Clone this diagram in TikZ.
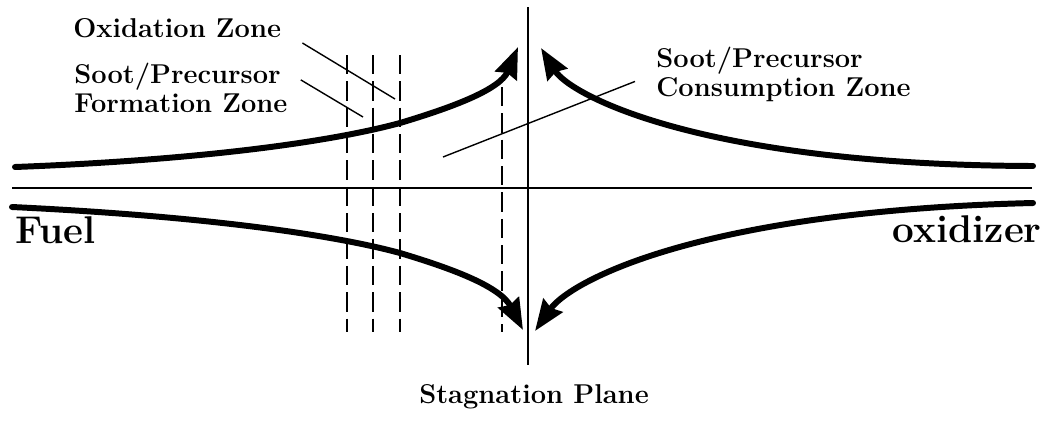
\documentclass[tikz,border=0pt]{standalone}
\usepackage{tikz}
\usetikzlibrary{arrows.meta,positioning}

\begin{document}
\begin{tikzpicture}[x=0.02cm,y=-0.02cm,
  lbl/.style={font=\bfseries\fontsize{15.5}{16.2}\selectfont,inner sep=0pt,align=left},
  big/.style={font=\bfseries\fontsize{22}{24}\selectfont,inner sep=0pt},
  flow/.style={line width=3.4pt,line cap=round,-{Stealth[length=0.62cm,width=0.46cm,inset=0.06cm]}},
  axis/.style={line width=0.9pt},
  zone/.style={line width=0.8pt,dash pattern=on 11pt off 4pt},
  lead/.style={line width=0.8pt}]
  \useasboundingbox (0,0) rectangle (1048,420);
  \draw[axis] (12,188) -- (1032,188);
  \draw[axis] (528,7) -- (528,365);
  \foreach \xz in {347,373,400} \draw[zone] (\xz,55) -- (\xz,332);
  \draw[zone] (502,87) -- (502,332);
  \coordinate (ulS) at (15,167);   \coordinate (ulT) at (518,47);
  \coordinate (urS) at (1033,166); \coordinate (urT) at (541,48);
  \coordinate (llS) at (12,207);   \coordinate (llT) at (523,330);
  \coordinate (lrS) at (1033,203); \coordinate (lrT) at (535,331);
  \draw[flow] (ulS) .. controls (200,160) and (330,142) .. (400,123)
    .. controls (450,108) and (500,90) .. (ulT);
  \draw[flow] (urS) .. controls (700,165) and (570,95) .. (urT);
  \draw[flow] (llS) .. controls (200,216) and (330,234) .. (400,253)
    .. controls (450,268) and (500,286) .. (llT);
  \draw[flow] (lrS) .. controls (700,211) and (570,281) .. (lrT);
  \node[lbl,anchor=base west] (oxi) at (73,37) {Oxidation Zone};
  \node[lbl,anchor=north west] (form) at (74,63) {Soot/Precursor\\Formation Zone};
  \node[lbl,anchor=north west] (cons) at (656,47) {Soot/Precursor\\Consumption Zone};
  \node[big,anchor=base west] (fuel) at (15,243) {Fuel};
  \node[big,anchor=base east] (oxid) at (1042,242) {oxidizer};
  \node[lbl,anchor=base] (stag) at (534,403) {Stagnation Plane};
  \coordinate (oxiE) at (395,99);
  \coordinate (formE) at (363,117);
  \coordinate (consE) at (443,157);
  \draw[lead] ([shift={(21,6)}]oxi.base east) -- (oxiE);
  \draw[lead] ([shift={(13,-8)}]form.east) -- (formE);
  \draw[lead] ([shift={(-21,7)}]cons.west) -- (consE);
\end{tikzpicture}
\end{document}
